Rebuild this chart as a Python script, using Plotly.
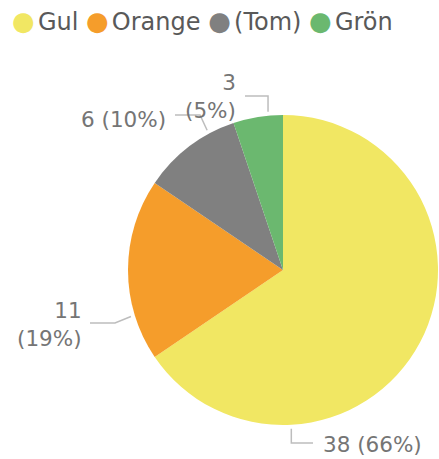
import math
import plotly.graph_objects as go

# ---- data ----
labels = ["Gul", "Orange", "(Tom)", "Grön"]
values = [38, 11, 6, 3]
colors = ["#F1E763", "#F59D2B", "#808080", "#6BB86F"]

# ---- styling / layout config ----
W, H = 439, 459
CX, CY, R = 283, 270, 155
label_angle = [177, 253, 331.5, 354.6]      # where each leader touches the pie
label_break = [False, True, False, True]     # two-line labels
LABEL_COLOR = "#757575"
LEADER_COLOR = "#BDBDBD"
LABEL_FONT = "DejaVu Sans"

def px(x, y):
    return x / W, 1 - y / H

fig = go.Figure()
fig.add_trace(go.Pie(
    labels=labels, values=values, sort=False, direction="clockwise", rotation=0,
    marker=dict(colors=colors, line=dict(width=0)),
    textinfo="none", hoverinfo="label+value+percent", showlegend=False,
    domain=dict(x=[(CX - R) / W, (CX + R) / W], y=[1 - (CY + R) / H, 1 - (CY - R) / H]),
))

total = sum(values)
# leader elbows (pixel) and label anchors
leader_style = [
    dict(elbow=("v", 443), end=313, text=(321, 444), xanchor="left"),
    dict(elbow=("h", 115, 323), end=90, text=(84, 324), xanchor="right"),
    dict(elbow=("h", 200, 115), end=175, text=(168, 119), xanchor="right"),
    dict(elbow=("v", 96), end=245, text=(238, 96), xanchor="right"),
]

shapes = []
annotations = []
for i, v in enumerate(values):
    a = math.radians(label_angle[i])
    sx = CX + (R + 4) * math.sin(a)
    sy = CY - (R + 4) * math.cos(a)
    st = leader_style[i]
    if st["elbow"][0] == "v":
        ex, ey = sx, st["elbow"][1]
    else:
        ex, ey = st["elbow"][1], st["elbow"][2]
    fx, fy = st["end"], ey
    pts = [px(sx, sy), px(ex, ey), px(fx, fy)]
    path = "M {} {} L {} {} L {} {}".format(*[c for p in pts for c in p])
    shapes.append(dict(type="path", xref="paper", yref="paper", path=path,
                       line=dict(color=LEADER_COLOR, width=1.5)))
    pct = round(100 * v / total)
    txt = f"{v}<br>({pct}%)" if label_break[i] else f"{v} ({pct}%)"
    tx, ty = px(*st["text"])
    annotations.append(dict(x=tx, y=ty, xref="paper", yref="paper", text=txt,
                            showarrow=False, xanchor=st["xanchor"], yanchor="middle",
                            align="right" if st["xanchor"] == "right" else "left",
                            font=dict(family=LABEL_FONT, size=21.5, color=LABEL_COLOR)))

# legend as a flowing line of coloured dots + names
parts = []
for lab, col in zip(labels, colors):
    parts.append(f"<span style='color:{col};font-size:26px'>●</span>"
                 f"<span style='font-size:10px'>\u00a0</span>{lab}")
legend_text = "\u00a0".join(parts)
lx, ly = px(10, 21)
annotations.append(dict(x=lx, y=ly, xref="paper", yref="paper", text=legend_text,
                        showarrow=False, xanchor="left", yanchor="middle",
                        font=dict(family="DejaVu Sans", size=24, color="#595959")))

fig.update_layout(
    width=W, height=H, margin=dict(l=0, r=0, t=0, b=0),
    paper_bgcolor="white", plot_bgcolor="white",
    shapes=shapes, annotations=annotations,
)
fig.write_html("out.html", config={"displayModeBar": False},
               post_script="document.body.style.margin='0';")
